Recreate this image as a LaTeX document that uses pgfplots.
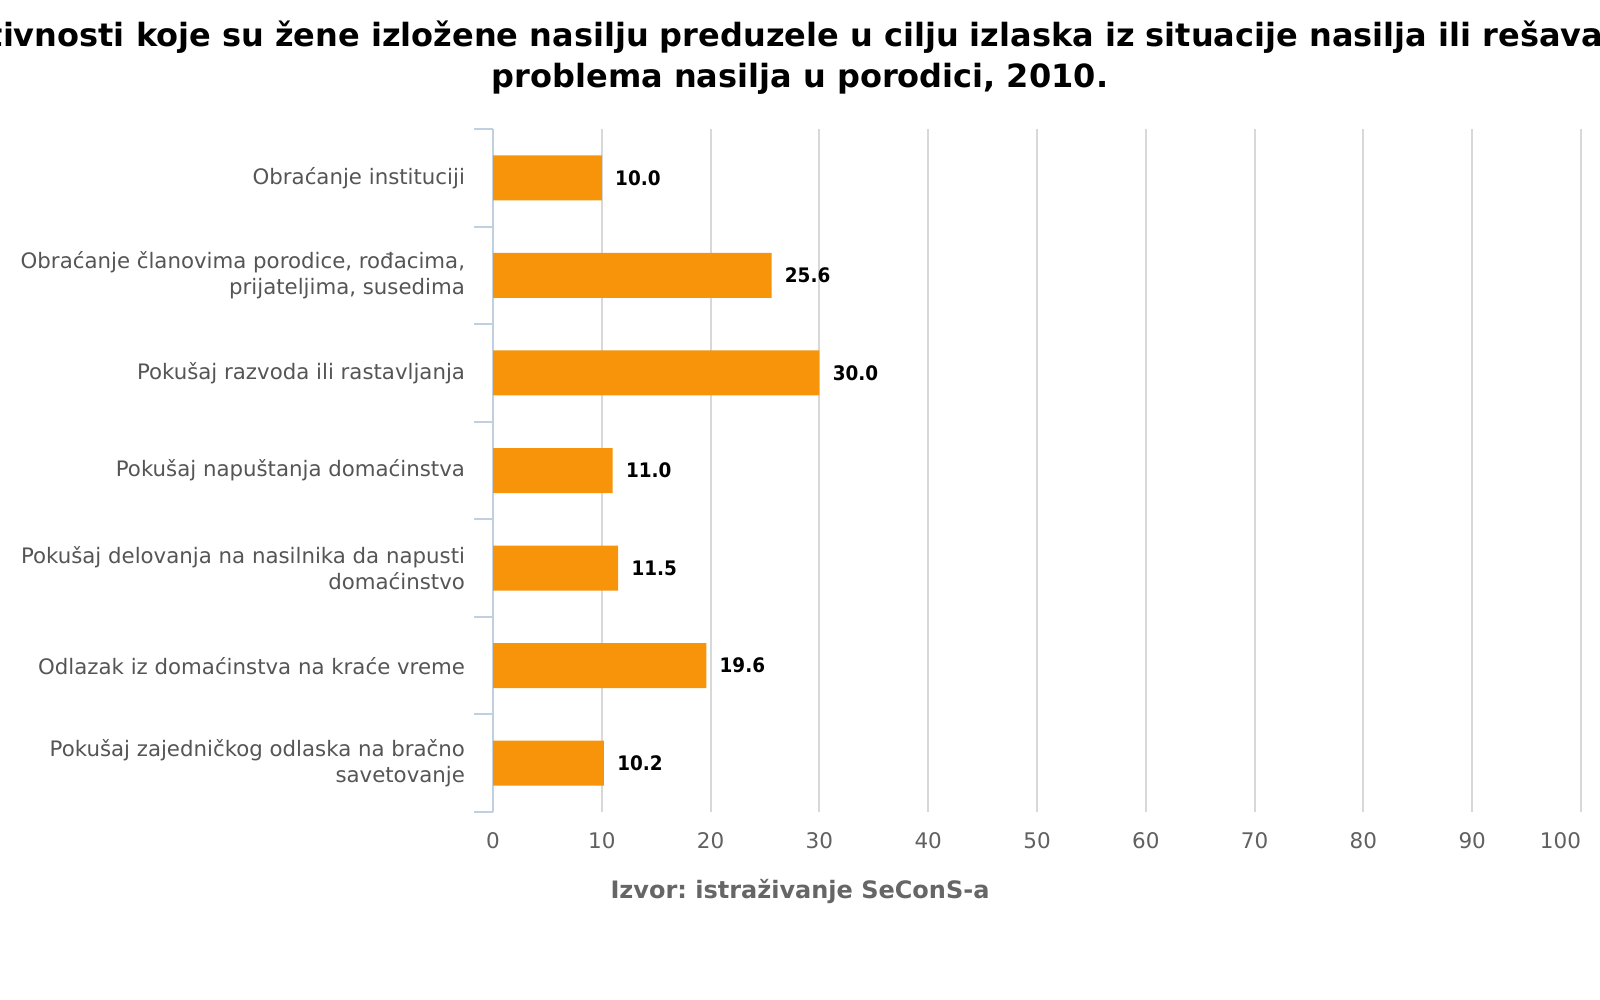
\documentclass[border=0pt]{standalone}
\usepackage{pgfplots}
\pgfplotsset{compat=1.18}
\usepackage{fontspec}
\setmainfont{DejaVu Sans}
\newfontfamily\valfont[FakeStretch=0.92]{DejaVu Sans}
\definecolor{barorange}{HTML}{F7940A}
\definecolor{gridgray}{HTML}{D8D8D8}
\definecolor{axisblue}{HTML}{C0D0E0}
\definecolor{labelgray}{HTML}{555555}
\definecolor{tickgray}{HTML}{606060}
\definecolor{srcgray}{HTML}{666666}
\frenchspacing
\begin{document}
\begin{tikzpicture}
\useasboundingbox (0,0) rectangle (800pt,500pt);
\node[font=\fontsize{16}{20.5}\selectfont\bfseries, align=center] at (400pt,471.25pt)
  {Aktivnosti koje su žene izložene nasilju preduzele u cilju izlaska iz situacije nasilja ili rešavanja\\problema nasilja u porodici, 2010.};
\begin{axis}[
  at={(246.5pt,94pt)}, anchor=south west,
  scale only axis, width=544pt, height=341.5pt,
  xmin=0, xmax=100, ymin=-0.5, ymax=6.5, y dir=reverse,
  xbar, bar width=22.5pt,
  xtick={0,10,...,100},
  xticklabels={0,10,20,30,40,50,60,70,80,90,\makebox[0pt][r]{100}},
  ytick={0,...,6},
  yticklabels={
    Obraćanje instituciji,
    {Obraćanje članovima porodice, rođacima,\\prijateljima, susedima},
    Pokušaj razvoda ili rastavljanja,
    Pokušaj napuštanja domaćinstva,
    Pokušaj delovanja na nasilnika da napusti\\domaćinstvo,
    Odlazak iz domaćinstva na kraće vreme,
    Pokušaj zajedničkog odlaska na bračno\\savetovanje},
  minor ytick={-0.5,0.5,...,6.5},
  major tick length=0pt,
  minor tick length=9.5pt,
  tick align=outside,
  xtick pos=bottom, ytick pos=left,
  minor y tick style={axisblue, line width=1pt},
  xmajorgrids, major grid style={gridgray, line width=1pt},
  separate axis lines,
  axis x line*=bottom, axis y line*=left,
  x axis line style={draw=none},
  y axis line style={axisblue, line width=1pt},
  /pgf/number format/assume math mode=true,
  xticklabel style={font=\fontsize{10.75}{12}\selectfont, text=tickgray, yshift=-6.5pt},
  yticklabel style={align=right, font=\fontsize{10.65}{12.75}\selectfont, text=labelgray, xshift=-10.5pt},
  point meta=x,
  nodes near coords={\pgfmathprintnumber[fixed,fixed zerofill,precision=1]{\pgfplotspointmeta}},
  nodes near coords style={font=\valfont\fontsize{10}{12}\selectfont\bfseries, text=black, anchor=west, inner sep=0pt, xshift=6.5pt},
]
\addplot[fill=barorange, draw=none] coordinates {
  (10.0,0) (25.6,1) (30.0,2) (11.0,3) (11.5,4) (19.6,5) (10.2,6)};
\end{axis}
\node[font=\fontsize{12}{14}\selectfont\bfseries, text=srcgray] at (400pt,54.5pt) {Izvor: istraživanje SeConS-a};
\end{tikzpicture}
\end{document}
